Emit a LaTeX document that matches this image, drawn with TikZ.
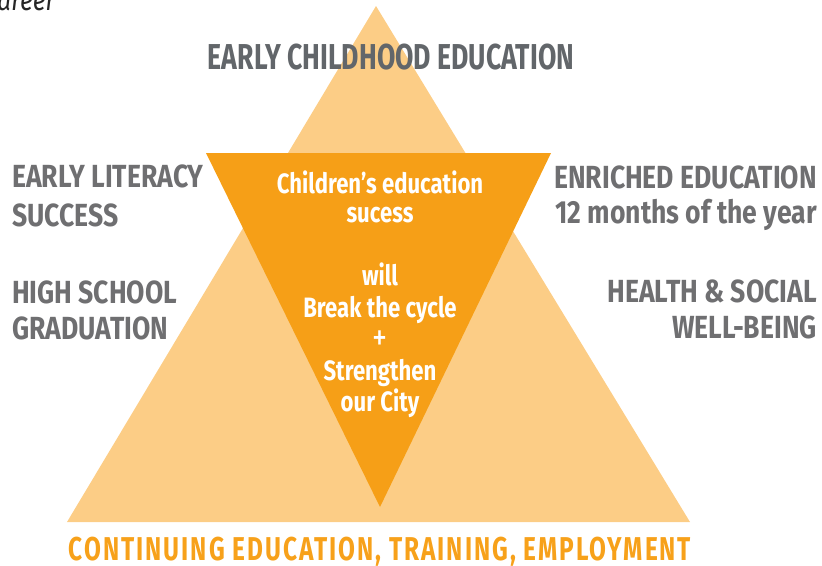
\documentclass[tikz,border=0pt]{standalone}
\usepackage{fontspec}
\setmainfont{Fira Sans}[FakeStretch=0.74]
\newfontfamily\sidefont{Fira Sans}[FakeStretch=0.83]
\newfontfamily\centfont{Fira Sans}[FakeStretch=0.79]
\definecolor{lightor}{HTML}{FCCD86}
\definecolor{darkor}{HTML}{F69F17}
\definecolor{graytx}{HTML}{6F6F71}
\definecolor{topgray}{HTML}{62666A}
\definecolor{botor}{HTML}{F7A11A}
\tikzset{
  graylbl/.style={inner sep=0pt, text=graytx, font=\sidefont\bfseries\fontsize{32}{32}\selectfont},
  toplbl/.style={inner sep=0pt, text=topgray, font=\bfseries\fontsize{36}{36}\selectfont},
  whitelbl/.style={inner sep=0pt, text=white, font=\centfont\bfseries\fontsize{28}{28}\selectfont, anchor=base},
  botlbl/.style={inner sep=0pt, text=botor, font=\bfseries\fontsize{33}{33}\selectfont\addfontfeatures{LetterSpace=6}},
}
\begin{document}
\begin{tikzpicture}[x=1pt,y=-1pt]
\useasboundingbox (0,0) rectangle (822,565);
% triangles
\coordinate (bigtop) at (376,6);
\coordinate (bigright) at (690,522);
\coordinate (bigleft) at (67,522);
\coordinate (invleft) at (206,153);
\coordinate (invright) at (551,153);
\coordinate (invbot) at (380,507);
\fill[lightor] (bigtop) -- (bigright) -- (bigleft) -- cycle;
\fill[darkor] (invleft) -- (invright) -- (invbot) -- cycle;
% cut-off caption
\node[inner sep=0pt, anchor=base west, text=black!85, font=\sidefont\itshape\fontsize{30}{30}\selectfont] (career) at (-3,10) {areer};
% top
\node[toplbl, anchor=base] (ece) at (391,69) {EARLY CHILDHOOD EDUCATION};
% left
\node[graylbl, anchor=base west] (el1) at (12,187) {EARLY LITERACY};
\node[graylbl, anchor=base west] (el2) at (12,226) {SUCCESS};
\node[graylbl, anchor=base west] (hs1) at (12,303) {HIGH SCHOOL};
\node[graylbl, anchor=base west] (hs2) at (12,339) {GRADUATION};
% right
\node[graylbl, anchor=base east] (en1) at (817,188) {ENRICHED EDUCATION};
\node[graylbl, anchor=base east] (en2) at (817,223) {12 months of the year};
\node[graylbl, anchor=base east] (he1) at (817,302) {HEALTH \& SOCIAL};
\node[graylbl, anchor=base east] (he2) at (817,338) {WELL-BEING};
% center
\node[whitelbl] (c1) at (380,193) {Children’s education};
\node[whitelbl] (c2) at (380,222) {sucess};
\node[whitelbl] (c3) at (380,285) {will};
\node[whitelbl] (c4) at (380,317) {Break the cycle};
\node[whitelbl, font=\centfont\fontsize{38}{38}\selectfont] (c5) at (380,350) {+};
\node[whitelbl] (c6) at (380,380) {Strengthen};
\node[whitelbl] (c7) at (380,411) {our City};
% bottom
\node[botlbl, anchor=base] (bot) at (380,560) {CONTINUING EDUCATION, TRAINING, EMPLOYMENT};
\end{tikzpicture}
\end{document}
